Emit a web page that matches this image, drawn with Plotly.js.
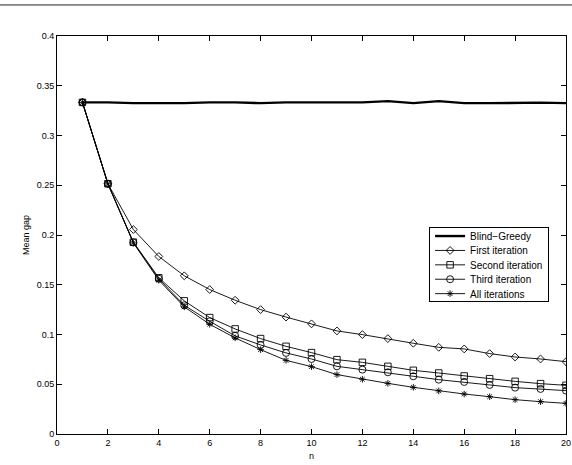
<!DOCTYPE html>
<html><head><meta charset="utf-8">
<script src="https://cdn.plot.ly/plotly-3.0.1.min.js"></script>
<style>html,body{margin:0;padding:0;background:#fff}#g{width:572px;height:465px}</style>
</head><body><div id="g"></div>
<script>
const n = [1,2,3,4,5,6,7,8,9,10,11,12,13,14,15,16,17,18,19,20];
const blindGreedy = [0.3333,0.3333,0.3325,0.3325,0.3325,0.3333,0.3333,0.3325,0.3333,0.3333,0.3333,0.3333,0.3345,0.3325,0.3345,0.3325,0.3325,0.3330,0.3330,0.3325];
const firstIter  = [0.3333,0.2515,0.2055,0.1784,0.1590,0.1452,0.1344,0.1250,0.1175,0.1107,0.1036,0.0999,0.0959,0.0912,0.0871,0.0855,0.0808,0.0774,0.0754,0.0727];
const secondIter = [0.3333,0.2515,0.1928,0.1570,0.1338,0.1170,0.1056,0.0959,0.0881,0.0818,0.0747,0.0720,0.0680,0.0640,0.0613,0.0583,0.0556,0.0529,0.0506,0.0489];
const thirdIter  = [0.3333,0.2515,0.1925,0.1560,0.1294,0.1133,0.0986,0.0895,0.0815,0.0754,0.0680,0.0647,0.0620,0.0580,0.0546,0.0523,0.0493,0.0466,0.0453,0.0436];
const allIter    = [0.3333,0.2515,0.1920,0.1546,0.1278,0.1103,0.0966,0.0848,0.0740,0.0677,0.0597,0.0550,0.0509,0.0469,0.0433,0.0402,0.0375,0.0345,0.0325,0.0308];
const xTicks = [0,2,4,6,8,10,12,14,16,18,20];
const yTicks = [0,0.05,0.1,0.15,0.2,0.25,0.3,0.35,0.4];
const yTickText = ['0','0.05','0.1','0.15','0.2','0.25','0.3','0.35','0.4'];

const lc = '#000';
function tr(name, y, sym, size, lw) {
  const t = {x:n, y:y, name:name, type:'scatter', mode: sym ? 'lines+markers' : 'lines',
    line:{color:lc, width:lw}};
  if (sym) t.marker = {symbol:sym, size:size, color:lc, line:{color:lc, width:0.9}};
  return t;
}
const data = [
  tr('Blind\u2212Greedy', blindGreedy, null, 0, 2.4),
  tr('First iteration', firstIter, 'diamond-open', 6, 0.9),
  tr('Second iteration', secondIter, 'square-open', 6.5, 0.9),
  tr('Third iteration', thirdIter, 'circle-open', 7, 0.9),
  tr('All iterations', allIter, 'asterisk-open', 5.5, 0.9)
];
const axfont = {family:'Liberation Sans, Arial, sans-serif', size:9, color:'#000'};
const layout = {
  width:572, height:465,
  margin:{l:57, r:6, t:36, b:31},
  paper_bgcolor:'#fff', plot_bgcolor:'#fff',
  font: axfont,
  showlegend:true,
  xaxis:{range:[0,20], tickvals:xTicks, ticktext:xTicks.map(String), ticks:'inside', ticklen:5, tickcolor:'#000',
    showline:true, linecolor:'#000', linewidth:1, mirror:'ticks', showgrid:false, zeroline:false,
    tickfont:axfont, title:{text:'n', font:axfont, standoff:5}},
  yaxis:{range:[0,0.4], tickvals:yTicks, ticktext:yTickText, ticks:'inside', ticklen:5, tickcolor:'#000',
    showline:true, linecolor:'#000', linewidth:1, mirror:'ticks', showgrid:false, zeroline:false,
    tickfont:axfont, title:{text:'Mean gap', font:axfont, standoff:5}},
  legend:{x:0.731, y:0.52, xanchor:'left', yanchor:'top', bgcolor:'#fff', bordercolor:'#000', borderwidth:1,
    font:{family:'Liberation Sans, Arial, sans-serif', size:10, color:'#000'}, tracegroupgap:0},
  shapes:[{type:'line', xref:'paper', yref:'paper', x0:-0.12, x1:1.02, y0:1.078, y1:1.078, line:{color:'#222', width:1}}]
};
Plotly.newPlot('g', data, layout, {displayModeBar:false, staticPlot:true}).then(function(gd){
  try {
    // tighten legend row spacing to match the reference's compact legend
    const rowH = 14.4, firstY = 9, boxH = 74;
    const items = gd.querySelectorAll('.legend .traces');
    items.forEach(function(el, i){
      const m = /translate\(([-\d.]+),\s*([-\d.]+)\)/.exec(el.getAttribute('transform') || '');
      if (!m) return;
      el.setAttribute('transform', 'translate(' + parseFloat(m[1]) + ',' + (firstY + i * rowH) + ')');
    });
    const bg = gd.querySelector('.legend rect.bg');
    if (bg) bg.setAttribute('height', String(boxH));
  } catch (e) {}
});
</script></body></html>
